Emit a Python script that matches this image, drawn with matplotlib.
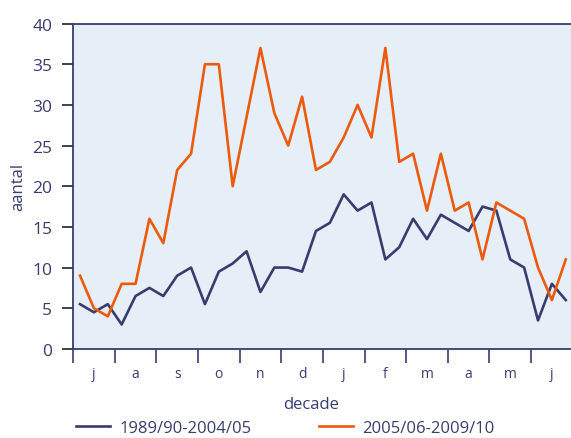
import numpy as np
import matplotlib.pyplot as plt

plt.rcParams['font.family'] = ['Open Sans', 'DejaVu Sans']

# maanden (3 decades per maand, juli t/m juni)
maanden = ['j', 'a', 's', 'o', 'n', 'd', 'j', 'f', 'm', 'a', 'm', 'j']

# aantal per decade
periode1 = [5.5, 4.5, 5.5, 3, 6.5, 7.5, 6.5, 9, 10, 5.5, 9.5, 10.5,
            12, 7, 10, 10, 9.5, 14.5, 15.5, 19, 17, 18, 11, 12.5,
            16, 13.5, 16.5, 15.5, 14.5, 17.5, 17, 11, 10, 3.5, 8, 6]
periode2 = [9, 5, 4, 8, 8, 16, 13, 22, 24, 35, 35, 20,
            28.5, 37, 29, 25, 31, 22, 23, 26, 30, 26, 37, 23,
            24, 17, 24, 17, 18, 11, 18, 17, 16, 10, 6, 11]

label1 = '1989/90-2004/05'
label2 = '2005/06-2009/10'

navy = '#383d6e'
oranje = '#ec5a0c'

fig = plt.figure(figsize=(5.71, 4.39), dpi=100)
ax = fig.add_axes([0.128, 0.203, 0.875, 0.741])
ax.set_facecolor('#e6eef8')

x = np.arange(len(periode1))
ax.plot(x, periode1, color=navy, lw=1.9, label=label1)
ax.plot(x, periode2, color=oranje, lw=1.9, label=label2)

ax.set_xlim(-0.5, 35.5)
ax.set_ylim(0, 40)

# y-as
ax.set_yticks(np.arange(0, 41, 5))
ax.tick_params(axis='y', direction='out', length=8, width=1.2, color='#222222',
               labelsize=12.5, labelcolor=navy, pad=7)

# x-as: streepjes op maandgrenzen, letters in het midden
ax.set_xticks(np.arange(-0.5, 36, 3))
ax.set_xticklabels([])
ax.set_xticks(np.arange(1, 36, 3), minor=True)
ax.set_xticklabels(maanden, minor=True)
ax.tick_params(axis='x', which='major', direction='out', length=10, width=1.2, color=navy)
ax.tick_params(axis='x', which='minor', length=0, labelsize=10, labelcolor=navy, pad=12)

for s in ['left', 'top', 'bottom']:
    ax.spines[s].set_color(navy)
    ax.spines[s].set_linewidth(1.3)
ax.spines['right'].set_visible(False)

ax.set_ylabel('aantal', color=navy, fontsize=12, labelpad=4)
ax.set_xlabel('decade', color=navy, fontsize=12)
ax.xaxis.set_label_coords(0.476, -0.145)

leg = fig.legend(loc='lower left', bbox_to_anchor=(0.107, -0.030), ncol=2, frameon=False,
                 fontsize=12, handlelength=2.05, columnspacing=4.05, handletextpad=0.55)
for t in leg.get_texts():
    t.set_color(navy)

fig.savefig('out.png', dpi=100)
